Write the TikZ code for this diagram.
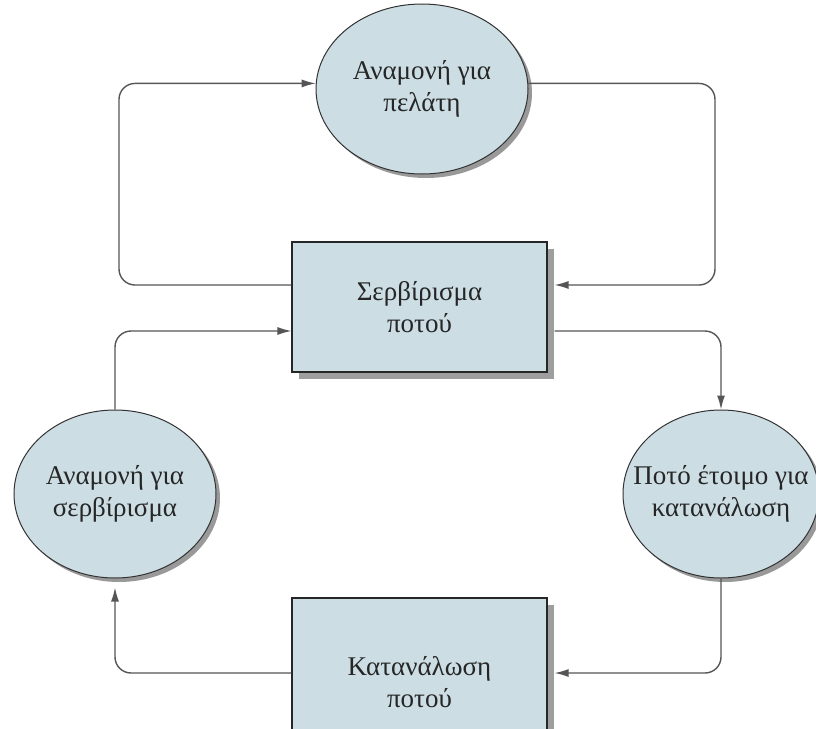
\documentclass[tikz,border=0pt]{standalone}
\usepackage{fontspec}
\setmainfont{Liberation Serif}
\usetikzlibrary{shapes.geometric,arrows.meta,shadows}
\definecolor{statefill}{RGB}{204,222,228}
\definecolor{wire}{RGB}{85,85,85}
\begin{document}
\begin{tikzpicture}[x=1pt,y=-1pt,
  every node/.style={font=\fontsize{27}{32}\selectfont, text=black!85, align=center},
  state/.style={ellipse, draw=black!80, line width=1pt, fill=statefill,
    inner xsep=-40pt, inner ysep=0pt,
    drop shadow={shadow xshift=4pt, shadow yshift=-4pt, fill=black!40, opacity=1}},
  activity/.style={rectangle, draw=black!85, line width=1.1pt, fill=statefill, inner sep=0pt,
    minimum width=255pt,
    drop shadow={shadow xshift=7pt, shadow yshift=-7pt, fill=black!38, opacity=1}},
  conn/.style={draw=wire, line width=1.4pt, rounded corners=16pt,
    -{Latex[length=14pt,width=8pt]}}
]
\useasboundingbox (0,0) rectangle (816,728);
\clip (0,0) rectangle (816,728);

% states and activities
\node[state, minimum width=212pt, minimum height=170pt] (wc) at (422,89) {Αναμονή για\\πελάτη};
\node[activity, minimum height=130pt] (serve) at (419.5,307) {Σερβίρισμα\\ποτού};
\node[state, minimum width=202pt, minimum height=168pt] (ws) at (115,494) {Αναμονή για\\σερβίρισμα};
\node[state, minimum width=196pt, minimum height=168pt] (ready) at (721,494) {Ποτό έτοιμο για\\κατανάλωση};
\node[activity, minimum height=168pt] (consume) at (419.5,682) {Κατανάλωση\\ποτού};

% ports and routing columns
\coordinate (aL) at (119,0);
\coordinate (bR) at (715,0);
\coordinate (s1w) at ([yshift=22pt]serve.west);
\coordinate (s1e) at ([xshift=7pt,yshift=22pt]serve.east);
\coordinate (s2w) at ([yshift=-24pt]serve.west);
\coordinate (s2e) at ([xshift=7pt,yshift=-24pt]serve.east);
\coordinate (k1w) at ([yshift=9pt]consume.west);
\coordinate (k1e) at ([xshift=7pt,yshift=9pt]consume.east);

% transitions
\draw[conn] (s1w) -| (aL |- wc.177) -- (wc.177);
\draw[conn] (wc.3) -| (bR |- s1e) -- (s1e);
\draw[conn] (ws.north) |- (s2w);
\draw[conn] (s2e) -| (ready.north);
\draw[conn] (ready.south) |- (k1e);
\draw[conn] (k1w) -| ([yshift=-9pt]ws.south);
\end{tikzpicture}
\end{document}
